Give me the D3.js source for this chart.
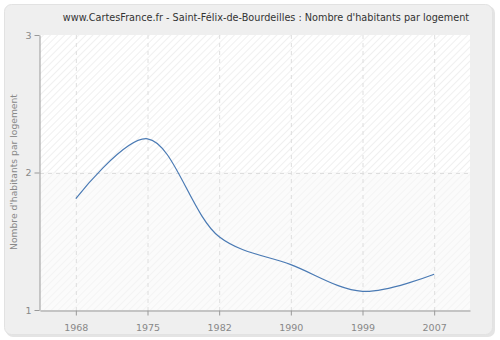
<!DOCTYPE html>
<html><head><meta charset="utf-8">
<script src="https://cdn.jsdelivr.net/npm/d3@7/dist/d3.min.js"></script>
<style>body{margin:0;background:#fff}svg{display:block}</style>
</head><body>
<script>
const years = ["1968","1975","1982","1990","1999","2007"];
const values = [1.81, 2.245, 1.533, 1.33, 1.136, 1.26];
const yTicks = [1, 2, 3];
const title = "www.CartesFrance.fr - Saint-Félix-de-Bourdeilles : Nombre d'habitants par logement";
const yTitle = "Nombre d'habitants par logement";

const W = 500, H = 340;
const m = {left: 40, right: 470, top: 35, bottom: 310};
const svg = d3.select("body").append("svg").attr("width", W).attr("height", H);
const defs = svg.append("defs");
const p1 = defs.append("pattern").attr("id","hatch1").attr("patternUnits","userSpaceOnUse")
  .attr("width",5).attr("height",5).attr("patternTransform","rotate(45)");
p1.append("rect").attr("width",5).attr("height",5).attr("fill","#ffffff");
p1.append("line").attr("x1",0).attr("y1",0).attr("x2",0).attr("y2",5).attr("stroke","#ebebeb").attr("stroke-width",1.5);
const p2 = defs.append("pattern").attr("id","hatch2").attr("patternUnits","userSpaceOnUse")
  .attr("width",5).attr("height",5).attr("patternTransform","rotate(45)");
p2.append("rect").attr("width",5).attr("height",5).attr("fill","#fbfbfb");
p2.append("line").attr("x1",0).attr("y1",0).attr("x2",0).attr("y2",5).attr("stroke","#f2f2f2").attr("stroke-width",1.5);

// outer panel
svg.append("rect").attr("x",6).attr("y",6).attr("width",489).attr("height",331).attr("rx",7)
  .attr("fill","#e4e4e4");
svg.append("rect").attr("x",4.5).attr("y",4.5).attr("width",488).attr("height",330).attr("rx",7)
  .attr("fill","#efefef").attr("stroke","#e2e2e2");

const x = d3.scalePoint().domain(years).range([m.left, m.right]).padding(0.5);
const y = d3.scaleLinear().domain([1,3]).range([m.bottom, m.top]);

svg.append("rect").attr("x",m.left).attr("y",y(3)).attr("width",m.right-m.left).attr("height",y(2)-y(3)).attr("fill","url(#hatch1)");
svg.append("rect").attr("x",m.left).attr("y",y(2)).attr("width",m.right-m.left).attr("height",y(1)-y(2)).attr("fill","url(#hatch2)");

// grid
const g = svg.append("g");
g.selectAll(".vg").data(years).join("line")
  .attr("x1",d=>x(d)+0.5).attr("x2",d=>x(d)+0.5).attr("y1",m.top).attr("y2",m.bottom)
  .attr("stroke","#dedede").attr("stroke-dasharray","4,4");
g.selectAll(".hg").data(yTicks.filter(t=>t>1&&t<3)).join("line")
  .attr("x1",m.left).attr("x2",m.right).attr("y1",d=>Math.round(y(d))+0.5).attr("y2",d=>Math.round(y(d))+0.5)
  .attr("stroke","#dedede").attr("stroke-dasharray","4,4");

// line
const line = d3.line().x((d,i)=>x(years[i])).y(d=>y(d)).curve(d3.curveCatmullRom.alpha(0.5));
svg.append("path").datum(values).attr("d",line).attr("fill","none")
  .attr("stroke","#4a7ab4").attr("stroke-width",1.2);

// axes
const xa = svg.append("g").attr("transform",`translate(0,${m.bottom+0.5})`)
  .call(d3.axisBottom(x).tickSize(5).tickSizeOuter(0));
const ya = svg.append("g").attr("transform",`translate(${m.left-0.5},0)`)
  .call(d3.axisLeft(y).tickValues(yTicks).tickFormat(d3.format("d")).tickSize(5).tickSizeOuter(0));
[xa, ya].forEach(a=>{
  a.select(".domain").attr("stroke","#999");
  a.selectAll(".tick line").attr("stroke","#999");
  a.selectAll(".tick text").attr("fill","#888").attr("font-family","DejaVu Sans, sans-serif").attr("font-size",9.5);
});
xa.selectAll(".tick text").attr("dy","1.3em");

svg.append("text").attr("x",266).attr("y",21).attr("text-anchor","middle")
  .attr("font-family","DejaVu Sans, sans-serif").attr("font-size",9.7).attr("fill","#333").text(title);
svg.append("text").attr("transform","translate(17,172) rotate(-90)").attr("text-anchor","middle")
  .attr("font-family","DejaVu Sans, sans-serif").attr("font-size",9.2).attr("fill","#888").text(yTitle);
</script>
</body></html>
